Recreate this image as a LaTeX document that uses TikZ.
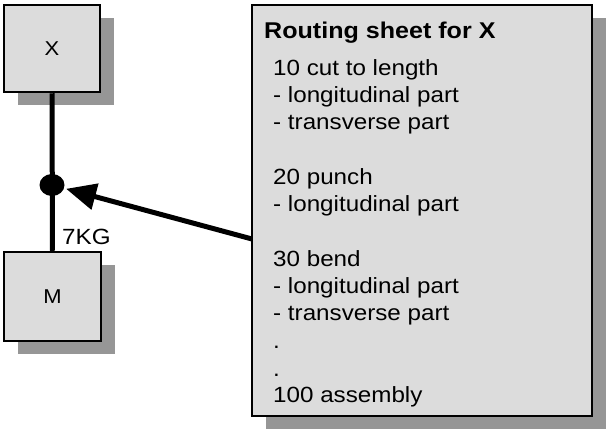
\documentclass[tikz,border=0pt]{standalone}
\usepackage{fontspec}
\setmainfont{Liberation Sans}[FakeStretch=1.1]
\usetikzlibrary{shadows,arrows.meta,shapes.geometric}
\definecolor{boxfill}{RGB}{220,220,220}
\definecolor{shadowgray}{RGB}{150,150,150}
\tikzset{
  shadowbox/.style={draw=black, line width=2.5pt, fill=boxfill, inner sep=0pt,
    drop shadow={shadow xshift=14pt, shadow yshift=-13pt, fill=shadowgray, opacity=1}},
  sheetline/.style={anchor=base west, inner sep=0pt, font=\fontsize{22}{26}\selectfont},
  lbl/.style={inner sep=0pt, font=\fontsize{20}{24}\selectfont},
  bigdot/.style={ellipse, fill=black, inner sep=0pt, minimum width=25pt, minimum height=22pt},
  link/.style={line width=5pt},
}
\begin{document}
\begin{tikzpicture}[x=1pt, y=-1pt]
\useasboundingbox (0,0) rectangle (606,429);
% boxes
\node[shadowbox, minimum width=96pt, minimum height=87pt] (X) at (52,48.5) {};
\node[lbl] (Xt) at (X.center) {X};
\node[shadowbox, minimum width=97pt, minimum height=89pt] (M) at (52.5,296.5) {};
\node[lbl] (Mt) at (M.center) {M};
\node[shadowbox, minimum width=340pt, minimum height=411pt] (sheet) at (422,210.5) {};
% connectors
\draw[link] (X.south) -- (M.north);
\node[bigdot] (dot) at (52,185) {};
\coordinate (from) at (252,239);
\draw[link, shorten >=2pt, -{Triangle[length=30pt,width=26pt]}] (from) -- (dot);
\node[sheetline] (kg) at (62,244) {7KG};
% sheet text
\node[sheetline, font=\fontsize{22.8}{26}\selectfont\bfseries] (title) at (264,38) {Routing sheet for X};
\node[sheetline] (l1) at (273,75) {10 cut to length};
\node[sheetline] (l2) at (273,102) {- longitudinal part};
\node[sheetline] (l3) at (273,129) {- transverse part};
\node[sheetline] (l4) at (273,184) {20 punch};
\node[sheetline] (l5) at (273,211) {- longitudinal part};
\node[sheetline] (l6) at (273,266) {30 bend};
\node[sheetline] (l7) at (273,293) {- longitudinal part};
\node[sheetline] (l8) at (273,320) {- transverse part};
\node[sheetline] (l9) at (273,348) {.};
\node[sheetline] (l10) at (273,376) {.};
\node[sheetline] (l11) at (273,402) {100 assembly};
\end{tikzpicture}
\end{document}
